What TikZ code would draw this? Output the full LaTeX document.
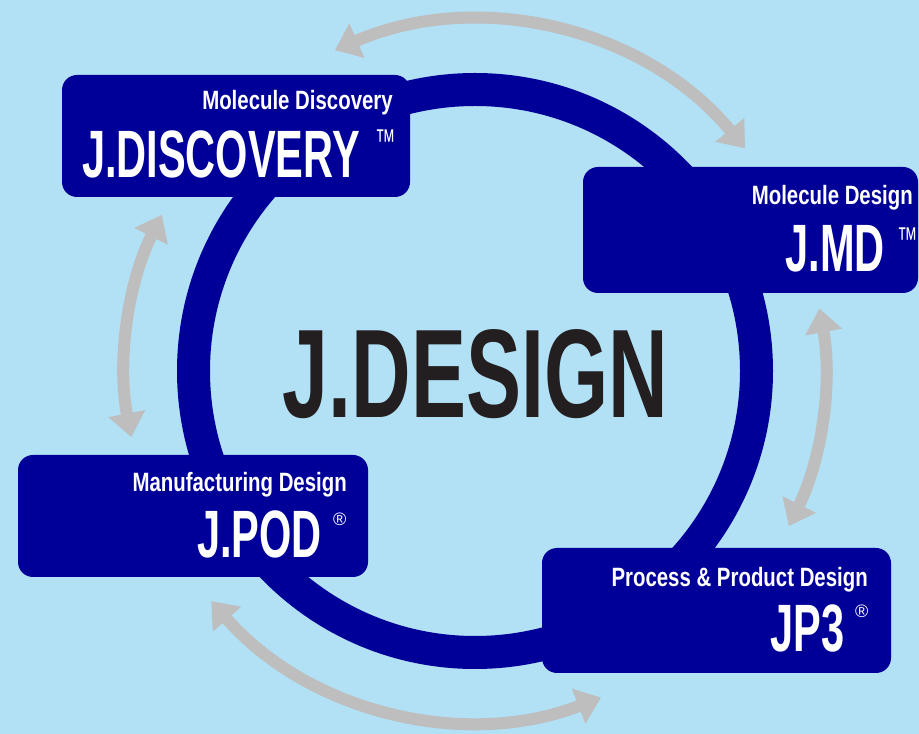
\documentclass[tikz,border=0pt]{standalone}
\usepackage{fontspec}
\setmainfont{Liberation Sans}
\newfontfamily\subfont[FakeStretch=0.77]{Liberation Sans}
\newfontfamily\productfont[FakeStretch=0.62]{Liberation Sans}
\newfontfamily\titlefont[FakeStretch=0.655]{Liberation Sans}
\usetikzlibrary{arrows.meta}
\definecolor{skyblue}{RGB}{178,224,245}
\definecolor{navy}{RGB}{0,0,153}
\definecolor{arrowgray}{RGB}{190,190,190}
\definecolor{inkblack}{RGB}{35,31,32}

\begin{document}
\begin{tikzpicture}[x=1pt, y=1pt,
    stage/.style={fill=navy, rounded corners=15pt, inner sep=0pt},
    subtitle/.style={anchor=base east, inner sep=0pt, text=white, font=\subfont\bfseries\fontsize{26.5}{30}\selectfont},
    product/.style={anchor=base east, inner sep=0pt, text=white, font=\productfont\bfseries\fontsize{67}{70}\selectfont},
    tmsign/.style={anchor=north west, inner sep=0pt, text=white, font=\productfont\fontsize{33}{35}\selectfont},
    regsign/.style={anchor=north west, inner sep=0pt, text=white, font=\fontsize{18}{20}\selectfont},
    cyclearrow/.style={line width=12pt, arrowgray, {Triangle[length=24pt,width=36pt]}-{Triangle[length=24pt,width=36pt]}}]

    \fill[skyblue] (0,0) rectangle (919,734);
    \useasboundingbox (0,0) rectangle (919,734);

    \coordinate (hub) at (475,363);

    % gray arrows round the ring
    \draw[cyclearrow] (hub) ++(113.6:350) arc[start angle=113.6, end angle=39.5, radius=350];
    \draw[cyclearrow] (hub) ++(10.3:350) arc[start angle=10.3, end angle=-26.3, radius=350];
    \draw[cyclearrow] (hub) ++(221.1:350) arc[start angle=221.1, end angle=291.1, radius=350];
    \draw[cyclearrow] (hub) ++(153.5:350) arc[start angle=153.5, end angle=190.9, radius=350];

    \draw[navy, line width=33pt] (hub) circle[radius=281.5];

    \node[anchor=base, inner sep=0pt, text=inkblack, font=\titlefont\bfseries\fontsize{126}{130}\selectfont] (title) at (475.5,316) {J.DESIGN};

    \begin{scope}
        \node[stage, minimum width=348pt, minimum height=122pt] (disc) at (236,598) {};
        \node[subtitle] (discsub) at (393,624) {Molecule Discovery};
        \node[product] (discname) at (360,556) {J.DISCOVERY};
        \node[tmsign] (disctm) at (375,604) {™};
    \end{scope}

    \begin{scope}
        \node[stage, minimum width=335pt, minimum height=126pt] (md) at (750.5,504) {};
        \node[subtitle] (mdsub) at (913,529) {Molecule Design};
        \node[product] (mdname) at (885,462) {J.MD};
        \node[tmsign] (mdtm) at (897,506) {™};
    \end{scope}

    \begin{scope}
        \node[stage, minimum width=350pt, minimum height=122pt] (pod) at (193,218) {};
        \node[subtitle] (podsub) at (347,242) {Manufacturing Design};
        \node[product] (podname) at (322,176) {J.POD};
        \node[regsign] (podreg) at (333,221) {®};
    \end{scope}

    \begin{scope}
        \node[stage, minimum width=349pt, minimum height=125pt] (jp) at (716.5,123.5) {};
        \node[subtitle] (jpsub) at (868,147) {Process \& Product Design};
        \node[product] (jpname) at (845,82) {JP3};
        \node[regsign] (jpreg) at (855,129) {®};
    \end{scope}
\end{tikzpicture}
\end{document}
